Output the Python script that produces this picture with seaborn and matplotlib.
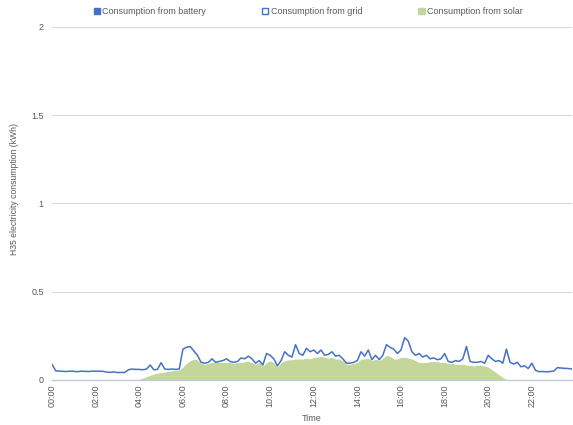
import numpy as np
import pandas as pd
import matplotlib
matplotlib.use("Agg")
import matplotlib.pyplot as plt
from matplotlib.patches import Patch
import seaborn as sns

# 10-minute readings over one day (kWh per interval)
total_use = [
    0.09, 0.052, 0.05, 0.049, 0.048, 0.05,
    0.049, 0.047, 0.05, 0.049, 0.048, 0.05,
    0.05, 0.05, 0.049, 0.045, 0.043, 0.046,
    0.042, 0.043, 0.042, 0.058, 0.062, 0.060,
    0.060, 0.058, 0.062, 0.085, 0.058, 0.060,
    0.098, 0.062, 0.060, 0.062, 0.060, 0.062,
    0.175, 0.185, 0.19, 0.165, 0.14, 0.10,
    0.095, 0.10, 0.12, 0.10, 0.105, 0.11,
    0.12, 0.105, 0.10, 0.105, 0.125, 0.12,
    0.135, 0.12, 0.095, 0.11, 0.085, 0.15,
    0.14, 0.12, 0.08, 0.11, 0.16, 0.14,
    0.13, 0.2, 0.15, 0.14, 0.18, 0.16,
    0.17, 0.15, 0.17, 0.14, 0.145, 0.16,
    0.135, 0.14, 0.12, 0.095, 0.095, 0.10,
    0.11, 0.16, 0.135, 0.17, 0.115, 0.14,
    0.115, 0.14, 0.2, 0.185, 0.175, 0.15,
    0.17, 0.24, 0.22, 0.16, 0.14, 0.15,
    0.13, 0.14, 0.12, 0.125, 0.115, 0.12,
    0.15, 0.105, 0.10, 0.11, 0.105, 0.12,
    0.19, 0.105, 0.10, 0.10, 0.105, 0.095,
    0.14, 0.12, 0.105, 0.11, 0.095, 0.175,
    0.10, 0.09, 0.10, 0.075, 0.08, 0.065,
    0.095, 0.055, 0.047, 0.048, 0.046, 0.048,
    0.05, 0.07, 0.068, 0.066, 0.065, 0.062,
]

solar_use = [
    0, 0, 0, 0, 0, 0,
    0, 0, 0, 0, 0, 0,
    0, 0, 0, 0, 0, 0,
    0, 0, 0, 0, 0, 0.002,
    0.005, 0.012, 0.02, 0.028, 0.035, 0.04,
    0.043, 0.046, 0.05, 0.053, 0.056, 0.058,
    0.075, 0.095, 0.11, 0.12, 0.115, 0.095,
    0.09, 0.095, 0.1, 0.1, 0.1, 0.1,
    0.1, 0.1, 0.095, 0.1, 0.1, 0.105,
    0.105, 0.1, 0.09, 0.1, 0.08, 0.1,
    0.11, 0.1, 0.075, 0.1, 0.11, 0.115,
    0.115, 0.12, 0.12, 0.12, 0.125, 0.12,
    0.13, 0.13, 0.135, 0.13, 0.125, 0.13,
    0.12, 0.12, 0.11, 0.09, 0.09, 0.095,
    0.1, 0.12, 0.12, 0.125, 0.11, 0.12,
    0.11, 0.125, 0.14, 0.135, 0.12, 0.12,
    0.13, 0.13, 0.125, 0.12, 0.11, 0.1,
    0.1, 0.1, 0.105, 0.105, 0.105, 0.1,
    0.1, 0.095, 0.095, 0.09, 0.09, 0.09,
    0.085, 0.085, 0.08, 0.085, 0.085, 0.08,
    0.075, 0.06, 0.045, 0.03, 0.015, 0.005,
    0, 0, 0, 0, 0, 0,
    0, 0, 0, 0, 0, 0,
    0, 0, 0, 0, 0, 0,
]

battery_use = [0.0] * len(total_use)
tick_labels = ["00:00", "02:00", "04:00", "06:00", "08:00", "10:00",
               "12:00", "14:00", "16:00", "18:00", "20:00", "22:00"]
y_ticks = [0, 0.5, 1, 1.5, 2]
y_tick_labels = ["0", "0.5", "1", "1.5", "2"]

df = pd.DataFrame({
    "slot": np.arange(len(total_use)),
    "solar": solar_use,
    "battery": battery_use,
})
df["grid"] = np.clip(np.array(total_use) - df["solar"], 0, None)
df["top"] = df["solar"] + df["battery"] + df["grid"]

sns.set_theme(style="white")
plt.rcParams["font.family"] = ["Liberation Sans", "DejaVu Sans"]

BLUE = "#4472C4"
GREEN = "#C4D79B"
TEXT = "#595959"

fig = plt.figure(figsize=(5.73, 4.25), dpi=100)
ax = fig.add_axes([0.0908, 0.1059, 0.9072, 0.8306])

# stacked areas: solar at the bottom, battery, then grid on top
ax.fill_between(df["slot"], 0, df["solar"], color=GREEN, lw=0, zorder=2)
ax.fill_between(df["slot"], df["solar"], df["solar"] + df["battery"],
                color=BLUE, lw=0, zorder=2)
ax.fill_between(df["slot"], df["solar"] + df["battery"], df["top"],
                color="white", lw=0, zorder=2)
sns.lineplot(data=df, x="slot", y="top", color=BLUE, lw=1.1, ax=ax, zorder=3)

ax.set_xlim(0, len(total_use) - 1)
ax.set_ylim(0, 2)
ax.set_yticks(y_ticks)
ax.set_yticklabels(y_tick_labels)
ax.set_xticks(np.arange(0, len(total_use), 12))
ax.set_xticklabels(tick_labels, rotation=90)
ax.tick_params(axis="both", length=0, labelsize=6.5, labelcolor=TEXT)
ax.tick_params(axis="x", pad=3)
ax.tick_params(axis="y", pad=6)

ax.yaxis.grid(True, color="#D9D9D9", lw=0.8)
ax.set_axisbelow(True)
for side in ["top", "right", "left"]:
    ax.spines[side].set_visible(False)
ax.spines["bottom"].set_color("#C3CBDB")
ax.spines["bottom"].set_linewidth(1.0)
ax.spines["bottom"].set_zorder(4)

ax.set_xlabel("Time", fontsize=6.5, color=TEXT, labelpad=5)
ax.set_ylabel("H35 electricity consumption (kWh)", fontsize=6.2, color=TEXT)
ax.yaxis.set_label_coords(-0.0635, 0.54)

handles = [
    Patch(facecolor=BLUE, edgecolor=BLUE, label="Consumption from battery"),
    Patch(facecolor="white", edgecolor=BLUE, lw=1.0, label="Consumption from grid"),
    Patch(facecolor=GREEN, edgecolor=GREEN, label="Consumption from solar"),
]
fig.legend(handles=handles, loc="center", bbox_to_anchor=(0.538, 0.972), ncol=3,
           frameon=False, fontsize=6.5, handlelength=0.7, handleheight=0.7,
           handletextpad=0.25, columnspacing=6.2, labelcolor=TEXT)

fig.savefig("out.png", dpi=100, facecolor="white")
